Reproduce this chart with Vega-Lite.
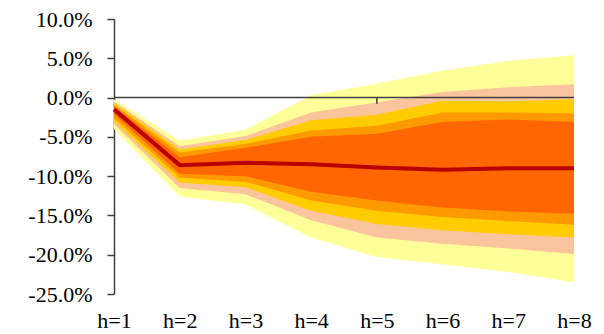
{
  "$schema": "https://vega.github.io/schema/vega-lite/v6.json",
  "width": 460,
  "height": 275,
  "autosize": {"type": "none"},
  "padding": {"left": 114, "top": 19, "right": 30, "bottom": 40},
  "background": "white",
  "config": {
    "view": {"stroke": null},
    "font": "Liberation Serif",
    "style": {"guide-label": {"font": "Liberation Serif", "fontSize": 22, "fill": "#000000"}},
    "axis": {
      "title": null, "grid": false,
      "labelFont": "Liberation Serif", "labelFontSize": 22, "labelColor": "#000000",
      "labelOverlap": false, "labelBound": false, "labelFlush": false
    },
    "axisX": {"domain": false, "ticks": false, "labelPadding": 16},
    "axisY": {"domainColor": "#404040", "domainWidth": 1.5, "tickColor": "#404040", "tickWidth": 1.5, "tickSize": 7, "labelPadding": 15}
  },
  "data": {"values": [
    {"h": 1, "y_lo": -4.0, "y_hi": -0.2, "p_lo": -3.4, "p_hi": -0.5, "g_lo": -3.0, "g_hi": -0.7, "o_lo": -2.6, "o_hi": -0.9, "d_lo": -2.1, "d_hi": -1.1, "c": -1.5},
    {"h": 2, "y_lo": -12.6, "y_hi": -5.5, "p_lo": -11.5, "p_hi": -6.2, "g_lo": -10.8, "g_hi": -6.6, "o_lo": -10.2, "o_hi": -7.0, "d_lo": -9.7, "d_hi": -7.6, "c": -8.6},
    {"h": 3, "y_lo": -13.6, "y_hi": -4.1, "p_lo": -12.3, "p_hi": -4.9, "g_lo": -11.4, "g_hi": -5.4, "o_lo": -10.7, "o_hi": -5.9, "d_lo": -10.0, "d_hi": -6.4, "c": -8.3},
    {"h": 4, "y_lo": -17.8, "y_hi": 0.3, "p_lo": -15.6, "p_hi": -1.9, "g_lo": -14.4, "g_hi": -2.9, "o_lo": -13.1, "o_hi": -4.2, "d_lo": -12.0, "d_hi": -5.0, "c": -8.5},
    {"h": 5, "y_lo": -20.3, "y_hi": 1.8, "p_lo": -17.8, "p_hi": -0.6, "g_lo": -16.1, "g_hi": -2.2, "o_lo": -14.4, "o_hi": -3.6, "d_lo": -13.1, "d_hi": -4.6, "c": -8.9},
    {"h": 6, "y_lo": -21.2, "y_hi": 3.4, "p_lo": -18.6, "p_hi": 0.7, "g_lo": -16.9, "g_hi": -0.4, "o_lo": -15.2, "o_hi": -1.9, "d_lo": -14.0, "d_hi": -3.1, "c": -9.2},
    {"h": 7, "y_lo": -22.2, "y_hi": 4.7, "p_lo": -19.2, "p_hi": 1.3, "g_lo": -17.4, "g_hi": -0.5, "o_lo": -15.7, "o_hi": -1.9, "d_lo": -14.5, "d_hi": -2.8, "c": -9.0},
    {"h": 8, "y_lo": -23.5, "y_hi": 5.4, "p_lo": -19.9, "p_hi": 1.7, "g_lo": -17.8, "g_hi": -0.2, "o_lo": -16.2, "o_hi": -2.0, "d_lo": -14.8, "d_hi": -3.1, "c": -9.0}
  ]},
  "encoding": {
    "x": {
      "field": "h", "type": "quantitative",
      "scale": {"domain": [1, 8], "nice": false, "zero": false},
      "axis": {"values": [1, 2, 3, 4, 5, 6, 7, 8], "labelExpr": "'h=' + datum.value", "labelFont": "Liberation Serif", "labelFontSize": 22}
    }
  },
  "layer": [
    {"mark": {"type": "area", "color": "#FFFF99", "opacity": 1},
     "encoding": {
       "y": {"field": "y_lo", "type": "quantitative",
             "scale": {"domain": [-25, 10], "nice": false},
             "axis": {"values": [-25, -20, -15, -10, -5, 0, 5, 10], "labelExpr": "(datum.value < 0 ? '-' : '') + format(abs(datum.value), '.1f') + '%'", "labelFont": "Liberation Serif", "labelFontSize": 22}},
       "y2": {"field": "y_hi"}
     }},
    {"mark": {"type": "area", "color": "#FAC59C", "opacity": 1},
     "encoding": {"y": {"field": "p_lo", "type": "quantitative", "axis": {"values": [-25, -20, -15, -10, -5, 0, 5, 10], "labelExpr": "(datum.value < 0 ? '-' : '') + format(abs(datum.value), '.1f') + '%'", "labelFont": "Liberation Serif", "labelFontSize": 22}}, "y2": {"field": "p_hi"}}},
    {"mark": {"type": "area", "color": "#FFCC00", "opacity": 1},
     "encoding": {"y": {"field": "g_lo", "type": "quantitative", "axis": {"values": [-25, -20, -15, -10, -5, 0, 5, 10], "labelExpr": "(datum.value < 0 ? '-' : '') + format(abs(datum.value), '.1f') + '%'", "labelFont": "Liberation Serif", "labelFontSize": 22}}, "y2": {"field": "g_hi"}}},
    {"mark": {"type": "area", "color": "#FF9900", "opacity": 1},
     "encoding": {"y": {"field": "o_lo", "type": "quantitative", "axis": {"values": [-25, -20, -15, -10, -5, 0, 5, 10], "labelExpr": "(datum.value < 0 ? '-' : '') + format(abs(datum.value), '.1f') + '%'", "labelFont": "Liberation Serif", "labelFontSize": 22}}, "y2": {"field": "o_hi"}}},
    {"mark": {"type": "area", "color": "#FF6600", "opacity": 1},
     "encoding": {"y": {"field": "d_lo", "type": "quantitative", "axis": {"values": [-25, -20, -15, -10, -5, 0, 5, 10], "labelExpr": "(datum.value < 0 ? '-' : '') + format(abs(datum.value), '.1f') + '%'", "labelFont": "Liberation Serif", "labelFontSize": 22}}, "y2": {"field": "d_hi"}}},
    {"mark": {"type": "line", "color": "#B80000", "strokeWidth": 4},
     "encoding": {"y": {"field": "c", "type": "quantitative", "axis": {"values": [-25, -20, -15, -10, -5, 0, 5, 10], "labelExpr": "(datum.value < 0 ? '-' : '') + format(abs(datum.value), '.1f') + '%'", "labelFont": "Liberation Serif", "labelFontSize": 22}}}},
    {"data": {"values": [{"x1": 1, "x2": 8, "yv": 0}]},
     "mark": {"type": "rule", "color": "#404040", "strokeWidth": 1.5},
     "encoding": {
       "x": {"field": "x1", "type": "quantitative", "axis": {"values": [1, 2, 3, 4, 5, 6, 7, 8], "labelExpr": "'h=' + datum.value", "labelFont": "Liberation Serif", "labelFontSize": 22}},
       "x2": {"field": "x2"},
       "y": {"field": "yv", "type": "quantitative", "axis": {"values": [-25, -20, -15, -10, -5, 0, 5, 10], "labelExpr": "(datum.value < 0 ? '-' : '') + format(abs(datum.value), '.1f') + '%'", "labelFont": "Liberation Serif", "labelFontSize": 22}}}},
    {"data": {"values": [{"hx": 5, "t0": 0, "t1": -0.8}]},
     "mark": {"type": "rule", "color": "#404040", "strokeWidth": 1.5},
     "encoding": {
       "x": {"field": "hx", "type": "quantitative", "axis": {"values": [1, 2, 3, 4, 5, 6, 7, 8], "labelExpr": "'h=' + datum.value", "labelFont": "Liberation Serif", "labelFontSize": 22}},
       "y": {"field": "t0", "type": "quantitative", "axis": {"values": [-25, -20, -15, -10, -5, 0, 5, 10], "labelExpr": "(datum.value < 0 ? '-' : '') + format(abs(datum.value), '.1f') + '%'", "labelFont": "Liberation Serif", "labelFontSize": 22}},
       "y2": {"field": "t1"}}}
  ]
}
